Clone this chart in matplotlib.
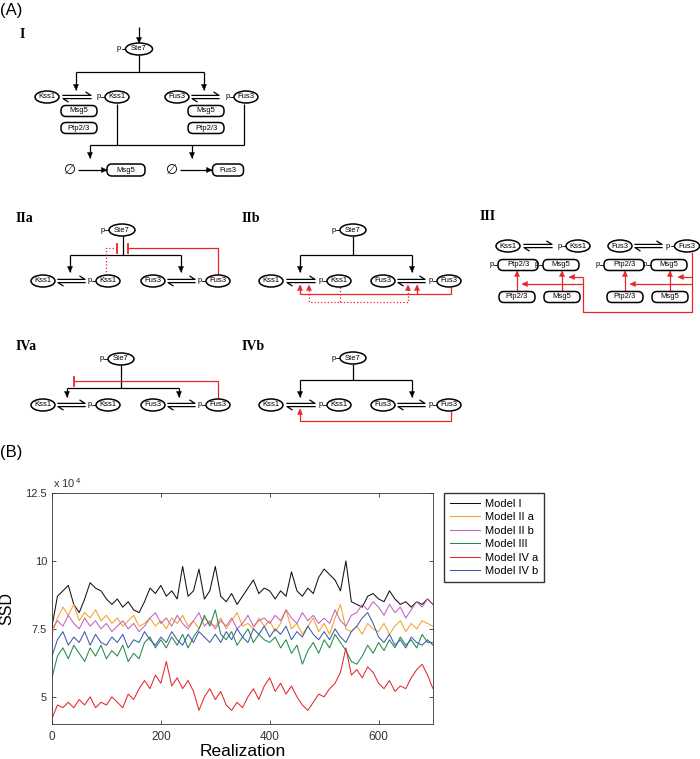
import numpy as np
import matplotlib
matplotlib.use("Agg")
import matplotlib.pyplot as plt
from matplotlib.patches import Ellipse, FancyBboxPatch, Polygon

plt.rcParams.update({"font.family": ["Liberation Sans", "DejaVu Sans"],
                     "mathtext.fontset": "custom", "mathtext.rm": "Liberation Sans"})

# ---- panel B data (SSD in units of 1e4, read every 10 realizations) ----
REALIZATION = np.arange(0, 701, 10)
MODEL_I = [7.6, 8.7, 8.9, 9.1, 8.4, 8.1, 8.6, 9.2, 9.0, 8.9,
           8.6, 8.4, 8.6, 8.3, 8.5, 8.2, 8.1, 8.5, 9.0, 8.8,
           9.1, 8.7, 8.9, 8.6, 9.8, 8.7, 8.9, 9.7, 8.6, 8.9,
           9.8, 8.7, 8.5, 8.8, 8.4, 8.7, 9.0, 9.3, 8.8, 9.0,
           8.9, 8.6, 8.9, 8.7, 9.6, 8.9, 8.7, 9.0, 8.8, 9.4,
           9.7, 9.5, 9.3, 8.9, 10.0, 8.5, 8.4, 8.3, 8.7, 8.8,
           8.6, 8.5, 8.9, 8.6, 8.4, 8.5, 8.3, 8.5, 8.4, 8.6, 8.4]
MODEL_IIA = [7.3, 7.9, 8.3, 8.0, 8.4, 7.8, 8.1, 7.9, 8.2, 7.8,
             8.0, 7.7, 7.9, 7.6, 7.8, 8.0, 7.6, 7.7, 7.9, 7.6,
             7.8, 7.5, 7.9, 7.7, 8.0, 7.6, 7.8, 7.5, 7.9, 7.7,
             7.6, 7.9, 7.5, 7.8, 8.1, 7.6, 7.7, 7.5, 7.9, 7.6,
             7.8, 7.4, 7.7, 8.2, 7.5, 7.7, 7.3, 7.6, 7.9, 7.4,
             7.7, 7.3, 7.9, 8.4, 7.5, 7.4, 7.6, 7.3, 7.7, 7.5,
             7.4, 7.7, 7.3, 7.6, 7.8, 7.4, 7.7, 7.5, 7.8, 7.7, 7.6]
MODEL_IIB = [7.5, 7.8, 7.6, 8.0, 7.7, 7.5, 7.9, 7.6, 7.8, 7.5,
             7.7, 7.4, 7.6, 7.8, 7.5, 7.7, 7.4, 7.6, 7.9, 8.1,
             7.7, 7.9, 7.6, 8.0, 7.7, 7.5, 7.8, 8.1, 7.6, 7.8,
             7.5, 7.8, 7.6, 7.9, 7.5, 7.7, 8.0, 7.6, 7.8, 7.9,
             7.7, 8.0, 7.8, 8.2, 7.9, 7.7, 8.1, 7.8, 8.0, 7.7,
             7.9, 7.7, 8.2, 7.8, 7.6, 8.0, 8.1, 8.4, 8.2, 8.5,
             8.3, 8.0, 8.4, 8.1, 8.3, 7.9, 8.2, 8.5, 8.3, 8.6, 8.4]
MODEL_III = [5.7, 6.5, 6.8, 6.4, 6.9, 6.6, 6.3, 6.8, 6.5, 6.9,
             6.4, 6.7, 6.5, 6.9, 6.3, 6.6, 6.4, 7.0, 7.2, 6.8,
             7.1, 6.8, 7.2, 6.9, 7.3, 6.8, 7.2, 7.5, 8.0, 7.6,
             8.2, 7.3, 7.1, 7.4, 6.9, 7.2, 7.5, 7.0, 7.3, 7.1,
             7.0, 7.2, 6.8, 7.1, 6.6, 6.9, 6.2, 6.7, 7.0, 6.6,
             7.1, 6.8, 7.3, 7.0, 6.7, 6.3, 6.2, 6.5, 6.9, 6.6,
             7.0, 6.7, 7.1, 6.8, 7.2, 6.9, 7.1, 6.8, 7.3, 7.0, 7.0]
MODEL_IVA = [4.2, 4.7, 4.6, 4.8, 4.6, 4.9, 4.7, 5.0, 4.6, 4.8,
             4.7, 5.0, 4.8, 4.6, 5.1, 4.9, 5.3, 5.6, 5.3, 5.8,
             5.5, 6.3, 5.4, 5.7, 5.3, 5.6, 5.2, 4.5, 5.0, 5.3,
             4.9, 5.2, 4.7, 4.5, 4.8, 4.6, 5.0, 5.3, 4.9, 5.4,
             5.7, 5.2, 5.5, 5.1, 5.4, 5.0, 4.7, 4.5, 4.8, 5.1,
             5.0, 5.3, 5.5, 5.9, 6.8, 5.8, 6.0, 5.7, 6.1, 5.9,
             5.5, 5.3, 5.6, 5.2, 5.4, 5.3, 5.7, 6.0, 6.2, 5.8, 5.3]
MODEL_IVB = [6.5, 7.1, 7.4, 6.9, 7.2, 7.0, 7.4, 6.9, 7.3, 7.0,
             6.9, 7.2, 7.0, 7.3, 6.8, 7.1, 7.0, 7.4, 7.1, 6.9,
             7.2, 7.0, 7.4, 7.1, 6.9, 7.3, 7.0, 7.4, 7.2, 7.0,
             7.3, 7.0, 7.4, 7.1, 7.5, 7.2, 7.0, 7.5, 7.3, 7.6,
             7.2, 7.5, 7.3, 7.6, 7.1, 7.4, 7.2, 7.6, 7.3, 7.1,
             7.4, 7.1, 7.5, 7.2, 7.0, 7.4, 7.6, 7.9, 8.1, 7.7,
             7.2, 7.0, 7.3, 6.9, 7.1, 6.8, 7.2, 7.0, 6.9, 7.1, 6.9]
MODEL_NAMES = ["Model I", "Model II a", "Model II b", "Model III", "Model IV a", "Model IV b"]
MODEL_COLORS = ["#111111", "#f5a12a", "#c463c0", "#1f8c4a", "#e8262a", "#3b5ba9"]

RED = "#e8262a"
LW = 0.9

fig = plt.figure(figsize=(7.0, 7.59), dpi=100)
dg = fig.add_axes([0, 0, 1, 1])          # pixel-space canvas for the diagrams
dg.set_xlim(0, 700); dg.set_ylim(759, 0); dg.axis("off")


def head(x, y, dx, dy, c):
    n = np.hypot(dx, dy); ux, uy = dx / n, dy / n
    bx, by = x - ux * 5.5, y - uy * 5.5
    pts = [(x, y), (bx - uy * 2.6, by + ux * 2.6), (bx + uy * 2.6, by - ux * 2.6)]
    dg.add_patch(Polygon(pts, closed=True, fc=c, ec=c, lw=0.3, zorder=4))


def path(pts, c="k", ls="-", end=None):
    xs, ys = zip(*pts)
    dg.plot(xs, ys, color=c, lw=LW, ls=ls, solid_capstyle="butt", zorder=3)
    (x0, y0), (x1, y1) = pts[-2], pts[-1]
    if end == "arrow":
        head(x1, y1, x1 - x0, y1 - y0, c)
    elif end == "bar":
        n = np.hypot(x1 - x0, y1 - y0); px, py = -(y1 - y0) / n, (x1 - x0) / n
        dg.plot([x1 - px * 4.5, x1 + px * 4.5], [y1 - py * 4.5, y1 + py * 4.5], color=c, lw=1.3, zorder=3)


def node(x, y, name, w=24, h=12, p=False, box=False):
    if box:
        dg.add_patch(FancyBboxPatch((x - w / 2, y - h / 2), w, h, boxstyle="round,pad=0,rounding_size=5",
                                    fc="white", ec="k", lw=1.1, zorder=5))
    else:
        dg.add_patch(Ellipse((x, y), w, h, fc="white", ec="k", lw=1.1, zorder=5))
    dg.text(x, y, name, fontsize=5.5, ha="center", va="center", zorder=6)
    if p:
        dg.text(x - w / 2 - 6.5, y, "p", fontsize=5.5, ha="center", va="center", zorder=6)
        dg.plot([x - w / 2 - 4, x - w / 2], [y, y], color="k", lw=0.6, zorder=4)


def harp(x1, x2, y):
    dg.plot([x1, x2, x2 - 5], [y - 1.6, y - 1.6, y - 4.8], color="k", lw=LW, zorder=3)
    dg.plot([x2, x1, x1 + 5], [y + 1.6, y + 1.6, y + 4.8], color="k", lw=LW, zorder=3)


def label(x, y, s):
    dg.text(x, y, s, fontsize=10, fontweight="bold", family="Liberation Serif", va="center")


def pair_row(xs, y):
    # Kss1 <-> p-Kss1   Fus3 <-> p-Fus3
    k, hk, pk, f, hf, pf = xs
    node(k, y, "Kss1"); harp(hk[0], hk[1], y); node(pk, y, "Kss1", p=True)
    node(f, y, "Fus3"); harp(hf[0], hf[1], y); node(pf, y, "Fus3", p=True)


dg.text(0, 11, "(A)", fontsize=12, va="center")
dg.text(0, 452, "(B)", fontsize=12, va="center")

# ---- I ----
label(20, 35, "I")
path([(139, 27), (139, 43)], end="arrow")
node(139, 49, "Ste7", w=27, p=True)
path([(139, 55), (139, 72)]); path([(76, 72), (204, 72)])
path([(76, 72), (76, 90)], end="arrow"); path([(204, 72), (204, 90)], end="arrow")
pair_row([47, (63, 91), 117, 177, (192, 219), 246], 97)
node(79, 111, "Msg5", w=36, h=11, box=True); node(79, 128, "Ptp2/3", w=36, h=11, box=True)
node(206, 111, "Msg5", w=36, h=11, box=True); node(206, 128, "Ptp2/3", w=36, h=11, box=True)
path([(117, 104), (117, 145)]); path([(244, 104), (244, 145)]); path([(90, 145), (244, 145)])
path([(90, 145), (90, 158)], end="arrow"); path([(192, 145), (192, 158)], end="arrow")
for x0, x1, xc, w, name in [(70, 107, 126, 38, "Msg5"), (172, 212, 228, 31, "Fus3")]:
    dg.text(x0, 170, "\u2205", fontsize=10, ha="center", va="center", family="DejaVu Sans")
    path([(x0 + 8, 170), (x1, 170)], end="arrow")
    node(xc, 170, name, w=w, h=12, box=True)

# ---- IIa ----
label(16, 218, "IIa")
node(122, 230, "Ste7", w=26, p=True)
path([(123, 236), (123, 255)]); path([(70, 255), (181, 255)])
path([(70, 255), (70, 272)], end="arrow"); path([(181, 255), (181, 272)], end="arrow")
pair_row([43, (58, 85), 108, 153, (168, 195), 218], 281)
path([(106, 275), (106, 248), (117, 248)], c=RED, ls=":", end="bar")
path([(218, 275), (218, 248), (128, 248)], c=RED, end="bar")

# ---- IIb ----
label(242, 218, "IIb")
node(353, 230, "Ste7", w=26, p=True)
path([(353, 236), (353, 255)]); path([(300, 255), (412, 255)])
path([(300, 255), (300, 272)], end="arrow"); path([(412, 255), (412, 272)], end="arrow")
pair_row([271, (287, 315), 339, 383, (398, 425), 449], 281)
path([(451, 287), (451, 294), (300, 294), (300, 285)], c=RED, end="arrow")
path([(417, 294), (417, 285)], c=RED, end="arrow")
path([(340, 287), (340, 302), (309, 302), (309, 285)], c=RED, ls=":", end="arrow")
path([(340, 302), (408, 302), (408, 285)], c=RED, ls=":", end="arrow")

# ---- III ----
label(480, 217, "III")
node(508, 246, "Kss1"); harp(524, 552, 246); node(578, 246, "Kss1", p=True)
node(620, 246, "Fus3"); harp(635, 662, 246); node(687, 246, "Fus3", w=25, p=True)
for xc, name, w in [(518, "Ptp2/3", 40), (561, "Msg5", 36), (624, "Ptp2/3", 40), (669, "Msg5", 36)]:
    node(xc, 265, name, w=w, h=11, box=True, p=True)
for xc, name in [(517, "Ptp2/3"), (562, "Msg5"), (625, "Ptp2/3"), (670, "Msg5")]:
    node(xc, 297, name, w=36, h=11, box=True)
    path([(xc, 291), (xc, 271)], c=RED, end="arrow")
path([(692, 252), (692, 312), (583, 312), (583, 277)], c=RED)
path([(583, 277), (569, 277)], c=RED, end="arrow"); path([(583, 284), (522, 284)], c=RED, end="arrow")
path([(692, 277), (678, 277)], c=RED, end="arrow"); path([(692, 284), (630, 284)], c=RED, end="arrow")

# ---- IVa ----
label(16, 347, "IVa")
node(121, 359, "Ste7", w=26, p=True)
path([(121, 365), (121, 388)]); path([(67, 388), (179, 388)])
path([(67, 388), (67, 397)], end="arrow"); path([(179, 388), (179, 397)], end="arrow")
pair_row([43, (58, 85), 108, 153, (168, 195), 218], 405)
path([(218, 399), (218, 381), (74, 381)], c=RED, end="bar")

# ---- IVb ----
label(242, 347, "IVb")
node(353, 358, "Ste7", w=26, p=True)
path([(353, 364), (353, 380)]); path([(300, 380), (412, 380)])
path([(300, 380), (300, 397)], end="arrow"); path([(412, 380), (412, 397)], end="arrow")
pair_row([271, (287, 315), 339, 383, (398, 425), 449], 405)
path([(451, 411), (451, 421), (300, 421), (300, 409)], c=RED, end="arrow")

# ---- panel B chart ----
ax = fig.add_axes([52 / 700, 35 / 759, 381 / 700, 231 / 759])
for name, vals, c in zip(MODEL_NAMES, [MODEL_I, MODEL_IIA, MODEL_IIB, MODEL_III, MODEL_IVA, MODEL_IVB],
                         MODEL_COLORS):
    ax.plot(REALIZATION, vals, color=c, lw=0.75, label=name)
ax.set_xlim(0, 700); ax.set_ylim(4, 12.5)
ax.set_xticks([0, 200, 400, 600])
ax.set_yticks([5, 7.5, 10, 12.5]); ax.set_yticklabels(["5", "7.5", "10", "12.5"])
ax.tick_params(direction="in", top=True, right=True, length=3, width=0.6, labelsize=8, colors="#333333")
ax.tick_params(axis="x", labelsize=8.5, pad=5)
for s in ax.spines.values():
    s.set_linewidth(0.6); s.set_color("#333333")
ax.set_xlabel("Realization", fontsize=12.5, labelpad=1)
ax.set_ylabel("SSD", fontsize=11.5, labelpad=8)
ax.text(0.003, 1.02, r"x 10$^{\,4}$", transform=ax.transAxes, fontsize=8, color="#333333")
ax.legend(loc="upper left", bbox_to_anchor=(444 / 700, 1 - 493 / 759), bbox_transform=fig.transFigure,
          fontsize=8, fancybox=False, edgecolor="#333333", framealpha=1, handlelength=2.7,
          labelspacing=0.32, borderaxespad=0, borderpad=0.5, handletextpad=0.5)

fig.savefig("out.png", dpi=100)
